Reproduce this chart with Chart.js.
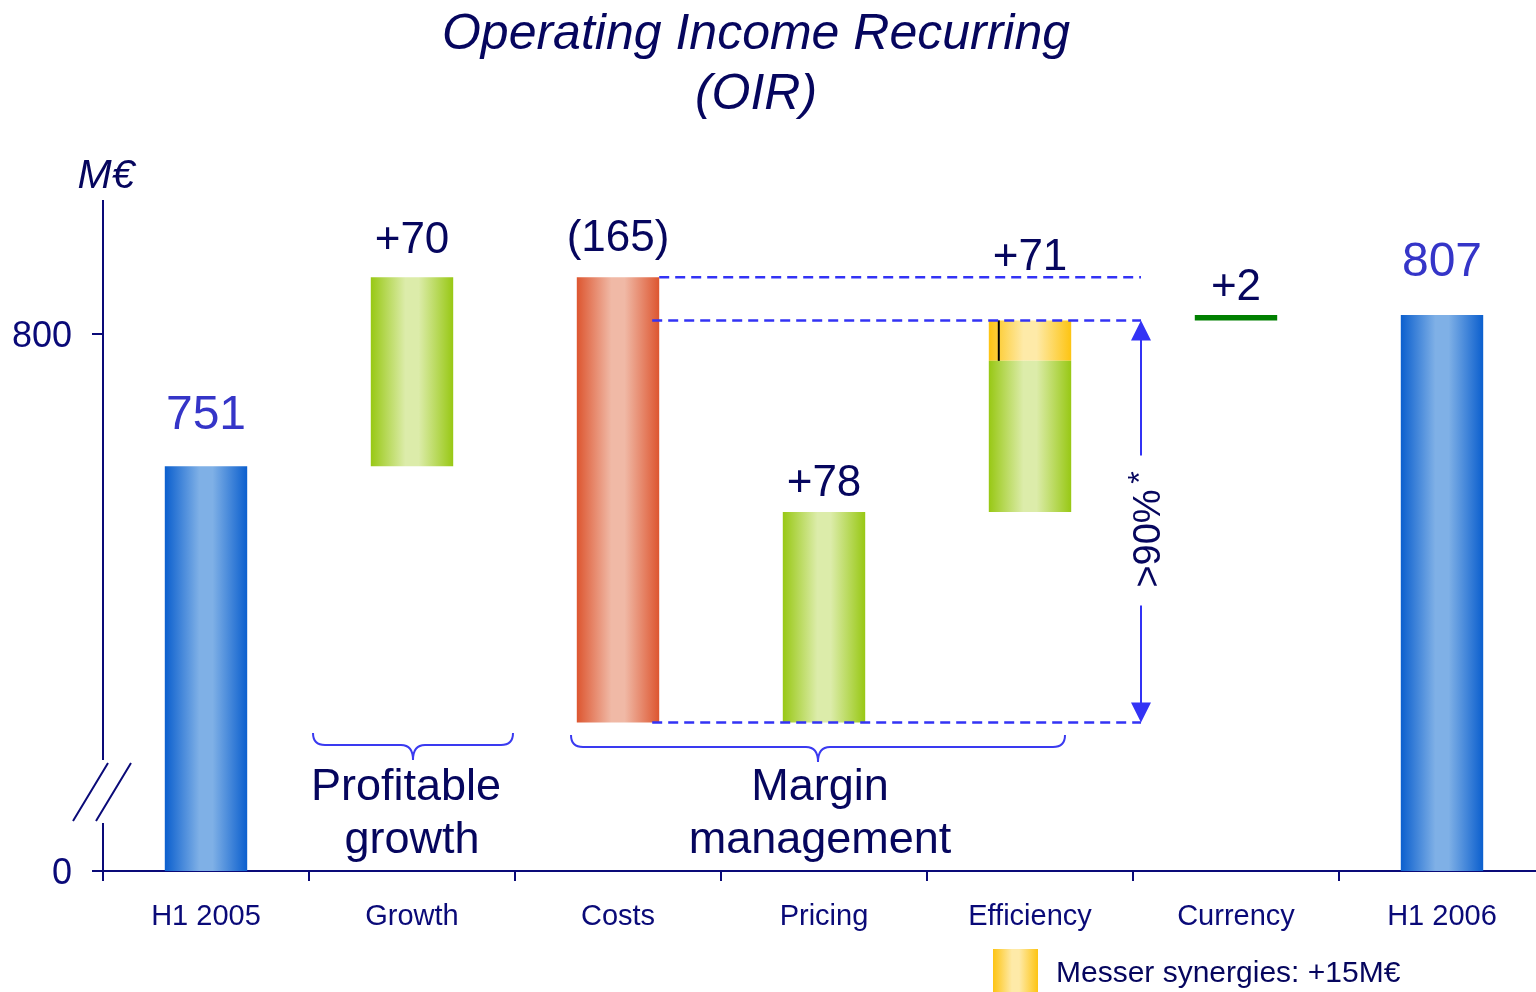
<!DOCTYPE html>
<html>
<head>
<meta charset="utf-8">
<script src="https://cdn.jsdelivr.net/npm/chart.js@4/dist/chart.umd.min.js"></script>
<style>
	html, body { margin: 0; padding: 0; background: #fff; overflow: hidden; }
	#wrap { position: absolute; left: 0; top: 0; width: 1560px; height: 992px; }
</style>
</head>
<body>
<div id="wrap"><canvas id="chart-oir" width="1560" height="992"></canvas></div>
<script>
const CATEGORIES = ["H1 2005", "Growth", "Costs", "Pricing", "Efficiency", "Currency", "H1 2006"];
const START_VALUE = 751;
const END_VALUE = 807;
const STEP_DELTAS = [70, -165, 78, 71, 2]; // Growth .. Currency
const MESSER_SYNERGIES = 15; // share of the Efficiency step
const VALUE_LABELS = ["751", "+70", "(165)", "+78", "+71", "+2", "807"];
const Y_TICKS = [800];
const AXIS_BREAK_MIN = 601; // shown as "0" under the axis break
const AXIS_MAX = 849.6;

// styling
const BAR_KIND = ["total", "up", "down", "up", "up", "fx", "total"];
const LABEL_LIFT = [50, 36, 38, 28, 63, 27, 52];
const NAVY = "#0a0a78";
const DARK = "#06065e";
const LABEL_BLUE = "#3535c8";
const DASH_BLUE = "#3333f5";
const FONT = "'Liberation Sans', Arial, sans-serif";
const GRADS = {
	total: ["#0b5fce", "#7fb0e6"],
	up: ["#98c814", "#dcecaa"],
	down: ["#dd5630", "#f0b9a6"],
	messer: ["#fdc412", "#feeaa8"],
};

// floating ranges for the waterfall
const mainRanges = [[AXIS_BREAK_MIN, START_VALUE]];
const messerRanges = CATEGORIES.map(() => null);
let level = START_VALUE;
STEP_DELTAS.forEach((d, i) => {
	const idx = i + 1;
	if (CATEGORIES[idx] === "Efficiency") {
		mainRanges.push([level, level + d - MESSER_SYNERGIES]);
		messerRanges[idx] = [level + d - MESSER_SYNERGIES, level + d];
	} else {
		mainRanges.push([level, level + d]);
	}
	level += d;
});
mainRanges.push([AXIS_BREAK_MIN, END_VALUE]);

const barGradient = (c, pair) => {
	const chart = c.chart;
	const x = chart.scales && chart.scales.x;
	if (!x || !chart.chartArea || c.dataIndex === undefined) return pair[0];
	const cx = x.getPixelForValue(c.dataIndex);
	const half = (x.width / CATEGORIES.length) * 0.2;
	const g = chart.ctx.createLinearGradient(cx - half, 0, cx + half, 0);
	g.addColorStop(0, pair[0]);
	g.addColorStop(0.42, pair[1]);
	g.addColorStop(0.58, pair[1]);
	g.addColorStop(1, pair[0]);
	return g;
};

const drawBrace = (ctx, x1, x2, top, mid, tip) => {
	const cx = (x1 + x2) / 2;
	const r = 12;
	ctx.beginPath();
	ctx.moveTo(x1, top);
	ctx.quadraticCurveTo(x1, mid, x1 + r, mid);
	ctx.lineTo(cx - r, mid);
	ctx.quadraticCurveTo(cx, mid, cx, tip);
	ctx.quadraticCurveTo(cx, mid, cx + r, mid);
	ctx.lineTo(x2 - r, mid);
	ctx.quadraticCurveTo(x2, mid, x2, top);
	ctx.stroke();
};

const annotations = {
	id: "annotations",
	afterDraw(chart) {
		const { ctx, chartArea, scales: { x, y } } = chart;
		const step = x.width / CATEGORIES.length;
		const half = step * 0.2;
		ctx.save();

		// y axis with break
		ctx.strokeStyle = NAVY;
		ctx.lineWidth = 2;
		ctx.beginPath();
		ctx.moveTo(chartArea.left, chartArea.top);
		ctx.lineTo(chartArea.left, 760);
		ctx.moveTo(chartArea.left, 823);
		ctx.lineTo(chartArea.left, chartArea.bottom);
		ctx.moveTo(73, 821); ctx.lineTo(108, 763);
		ctx.moveTo(96, 821); ctx.lineTo(131, 763);
		ctx.stroke();

		// title + unit
		ctx.fillStyle = DARK;
		ctx.textAlign = "center";
		ctx.textBaseline = "middle";
		ctx.font = `italic 50px ${FONT}`;
		ctx.fillText("Operating Income Recurring", 756, 35);
		ctx.fillText("(OIR)", 756, 95);
		ctx.font = `italic 41px ${FONT}`;
		ctx.fillText("M€", 106, 177);

		// value labels
		mainRanges.forEach((r, i) => {
			let top = Math.max(r[0], r[1]);
			if (messerRanges[i]) top = Math.max(top, messerRanges[i][1]);
			const isTotal = BAR_KIND[i] === "total";
			ctx.fillStyle = isTotal ? LABEL_BLUE : DARK;
			ctx.font = `${isTotal ? 48 : 44}px ${FONT}`;
			ctx.fillText(VALUE_LABELS[i], x.getPixelForValue(i), y.getPixelForValue(top) - LABEL_LIFT[i]);
		});

		// little marker inside the Messer part
		const eff = CATEGORIES.indexOf("Efficiency");
		const mr = messerRanges[eff];
		ctx.strokeStyle = "#000";
		ctx.lineWidth = 2;
		ctx.beginPath();
		ctx.moveTo(x.getPixelForValue(eff) - half + 10, y.getPixelForValue(mr[1]));
		ctx.lineTo(x.getPixelForValue(eff) - half + 10, y.getPixelForValue(mr[0]));
		ctx.stroke();

		// dashed reference lines
		const costs = CATEGORIES.indexOf("Costs");
		const arrowX = x.getPixelForValue(eff) + step / 2 + 8;
		const costsRight = x.getPixelForValue(costs) + half;
		const highLevel = mainRanges[costs][0];
		const lowLevel = mainRanges[costs][1];
		const effTop = mr[1];
		ctx.strokeStyle = DASH_BLUE;
		ctx.lineWidth = 2.5;
		ctx.setLineDash([10, 6]);
		ctx.beginPath();
		ctx.moveTo(costsRight, y.getPixelForValue(highLevel));
		ctx.lineTo(arrowX, y.getPixelForValue(highLevel));
		ctx.moveTo(costsRight - 7, y.getPixelForValue(effTop));
		ctx.lineTo(arrowX, y.getPixelForValue(effTop));
		ctx.moveTo(costsRight - 7, y.getPixelForValue(lowLevel));
		ctx.lineTo(arrowX, y.getPixelForValue(lowLevel));
		ctx.stroke();
		ctx.setLineDash([]);

		// double arrow with rotated text
		const aTop = y.getPixelForValue(effTop);
		const aBot = y.getPixelForValue(lowLevel);
		const aMid = (aTop + aBot) / 2 + 9;
		ctx.lineWidth = 2;
		ctx.beginPath();
		ctx.moveTo(arrowX, aTop + 18);
		ctx.lineTo(arrowX, aMid - 75);
		ctx.moveTo(arrowX, aMid + 75);
		ctx.lineTo(arrowX, aBot - 18);
		ctx.stroke();
		ctx.fillStyle = DASH_BLUE;
		ctx.beginPath();
		ctx.moveTo(arrowX, aTop); ctx.lineTo(arrowX - 10, aTop + 20); ctx.lineTo(arrowX + 10, aTop + 20); ctx.closePath();
		ctx.moveTo(arrowX, aBot); ctx.lineTo(arrowX - 10, aBot - 20); ctx.lineTo(arrowX + 10, aBot - 20); ctx.closePath();
		ctx.fill();
		ctx.save();
		ctx.translate(arrowX + 9, aMid);
		ctx.rotate(-Math.PI / 2);
		ctx.fillStyle = DARK;
		ctx.font = `38px ${FONT}`;
		ctx.textAlign = "center";
		ctx.fillText(">90%", -8, 0);
		ctx.font = `32px ${FONT}`;
		ctx.fillText("*", 53, -9);
		ctx.restore();

		// braces + group labels
		ctx.strokeStyle = "#3a3af0";
		ctx.lineWidth = 2;
		const growth = CATEGORIES.indexOf("Growth");
		drawBrace(ctx, x.getPixelForValue(growth) - 99, x.getPixelForValue(growth) + 101, 733, 745, 760);
		drawBrace(ctx, x.getPixelForValue(costs) - 47, x.getPixelForValue(eff) + 35, 735, 747, 762);
		ctx.fillStyle = DARK;
		ctx.font = `45px ${FONT}`;
		ctx.textAlign = "center";
		ctx.fillText("Profitable", 406, 788);
		ctx.fillText("growth", 412, 841);
		ctx.fillText("Margin", 820, 788);
		ctx.fillText("management", 820, 841);

		// legend
		const lg = ctx.createLinearGradient(993, 0, 1038, 0);
		lg.addColorStop(0, GRADS.messer[0]);
		lg.addColorStop(0.42, GRADS.messer[1]);
		lg.addColorStop(0.58, GRADS.messer[1]);
		lg.addColorStop(1, GRADS.messer[0]);
		ctx.fillStyle = lg;
		ctx.fillRect(993, 949, 45, 44);
		ctx.fillStyle = DARK;
		ctx.font = `30px ${FONT}`;
		ctx.textAlign = "left";
		ctx.fillText(`Messer synergies: +${MESSER_SYNERGIES}M€`, 1056, 974);

		ctx.restore();
	},
};

const DATA = {
	labels: CATEGORIES,
	datasets: [
		{
			data: mainRanges,
			grouped: false,
			backgroundColor: (c) => {
				const kind = BAR_KIND[c.dataIndex];
				if (kind === "fx") return "#008000";
				return barGradient(c, GRADS[kind] || GRADS.up);
			},
			borderWidth: 0,
			borderSkipped: false,
			categoryPercentage: 1,
			barPercentage: 0.4,
		},
		{
			data: messerRanges,
			grouped: false,
			backgroundColor: (c) => barGradient(c, GRADS.messer),
			borderWidth: 0,
			borderSkipped: false,
			categoryPercentage: 1,
			barPercentage: 0.4,
		},
	],
};

const CONFIG = {
	type: "bar",
	data: DATA,
	options: {
		responsive: false,
		animation: false,
		devicePixelRatio: 1,
		layout: { padding: { top: 200, right: 15, left: 0, bottom: 0 } },
		plugins: {
			legend: { display: false },
			title: { display: false },
			tooltip: { enabled: false },
		},
		scales: {
			x: {
				afterFit: (s) => { s.height = 121; },
				border: { display: true, color: NAVY, width: 2 },
				grid: { display: true, offset: true, drawOnChartArea: false, drawTicks: true, tickLength: 10, color: NAVY, lineWidth: 2 },
				ticks: { color: NAVY, font: { family: FONT, size: 29 }, padding: 19, maxRotation: 0, autoSkip: false },
			},
			y: {
				min: AXIS_BREAK_MIN,
				max: AXIS_MAX,
				afterFit: (s) => { s.width = 103; },
				afterBuildTicks: (s) => { s.ticks = [{ value: AXIS_BREAK_MIN }, ...Y_TICKS.map((v) => ({ value: v }))]; },
				border: { display: false },
				grid: { display: true, drawOnChartArea: false, drawTicks: true, tickLength: 11, color: NAVY, lineWidth: 2 },
				ticks: {
					color: NAVY,
					font: { family: FONT, size: 36 },
					padding: 20,
					labelOffset: 3,
					callback: (v) => (v === AXIS_BREAK_MIN ? "0" : String(v)),
				},
			},
		},
	},
	plugins: [annotations],
};

const WRAPPER = document.getElementById("chart-oir");
if (WRAPPER) {
	new Chart(WRAPPER, CONFIG);
}
</script>
</body>
</html>
